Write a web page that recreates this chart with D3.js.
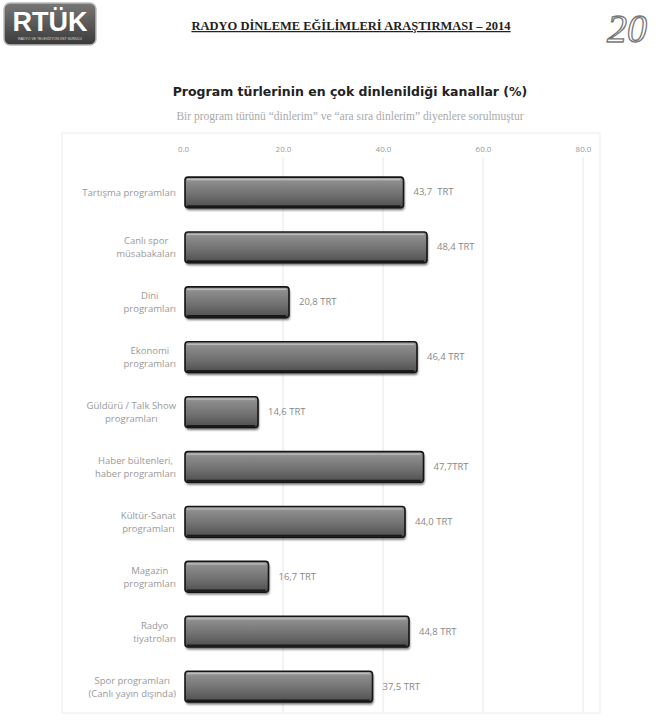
<!DOCTYPE html>
<html><head><meta charset="utf-8">
<script src="https://cdn.jsdelivr.net/npm/d3@7"></script>
<style>body{margin:0;background:#fff}</style>
</head><body>
<svg id="c" width="656" height="727"></svg>
<script>
const categories = [
  ["Tartışma programları"],
  ["Canlı spor", "müsabakaları"],
  ["Dini", "programları"],
  ["Ekonomi", "programları"],
  ["Güldürü / Talk Show", "programları"],
  ["Haber bültenleri,", "haber programları"],
  ["Kültür-Sanat", "programları"],
  ["Magazin", "programları"],
  ["Radyo", "tiyatroları"],
  ["Spor programları", "(Canlı yayın dışında)"]
];
const values = [43.7, 48.4, 20.8, 46.4, 14.6, 47.7, 44.0, 16.7, 44.8, 37.5];
const valueLabels = ["43,7  TRT", "48,4 TRT", "20,8 TRT", "46,4 TRT", "14,6 TRT", "47,7TRT", "44,0 TRT", "16,7 TRT", "44,8 TRT", "37,5 TRT"];
const tickValues = [0, 20, 40, 60, 80];
const tickLabels = ["0.0", "20.0", "40.0", "60.0", "80.0"];

const svg = d3.select("#c");
const defs = svg.append("defs");
const g1 = defs.append("linearGradient").attr("id","bar").attr("x1",0).attr("y1",0).attr("x2",0).attr("y2",1);
[["0%","#a4a4a4"],["15%","#8c8c8c"],["55%","#727272"],["100%","#4e4e4e"]].forEach(s=>g1.append("stop").attr("offset",s[0]).attr("stop-color",s[1]));
const g2 = defs.append("linearGradient").attr("id","logo").attr("x1",0).attr("y1",0).attr("x2",0).attr("y2",1);
[["0%","#777"],["100%","#3a3a3a"]].forEach(s=>g2.append("stop").attr("offset",s[0]).attr("stop-color",s[1]));
defs.append("filter").attr("id","blur").append("feGaussianBlur").attr("stdDeviation",1.2);

// Header
svg.append("rect").attr("x",4).attr("y",3).attr("width",92).attr("height",42).attr("rx",6)
  .attr("fill","url(#logo)").attr("stroke","#bbb").attr("stroke-width",1.5);
svg.append("text").attr("x",50).attr("y",31).attr("text-anchor","middle")
  .attr("font-family","Liberation Sans, Arial, sans-serif").attr("font-weight","bold").attr("font-size",27)
  .attr("fill","#fff").text("RTÜK");
svg.append("text").attr("x",50).attr("y",40).attr("text-anchor","middle")
  .attr("font-family","Liberation Sans, Arial, sans-serif").attr("font-size",3.5)
  .attr("fill","#ddd").text("RADYO VE TELEVİZYON ÜST KURULU");
svg.append("text").attr("x",351).attr("y",30).attr("text-anchor","middle")
  .attr("font-family","Liberation Serif, Times New Roman, serif").attr("font-weight","bold").attr("font-size",12.5)
  .attr("fill","#222").attr("text-decoration","underline").text("RADYO DİNLEME EĞİLİMLERİ ARAŞTIRMASI – 2014");
svg.append("text").attr("x",627).attr("y",42).attr("text-anchor","middle")
  .attr("font-family","Liberation Serif, serif").attr("font-style","italic").attr("font-size",40)
  .attr("fill","none").attr("stroke","#777").attr("stroke-width",1.3).text("20");

// Chart titles
svg.append("text").attr("x",350).attr("y",96).attr("text-anchor","middle")
  .attr("font-family","DejaVu Sans, sans-serif").attr("font-weight","bold").attr("font-size",12.5)
  .attr("fill","#222").text("Program türlerinin en çok dinlenildiği kanallar (%)");
svg.append("text").attr("x",350).attr("y",120).attr("text-anchor","middle")
  .attr("font-family","Liberation Serif, serif").attr("font-size",11.5)
  .attr("fill","#aaa").text("Bir program türünü \u201cdinlerim\u201d ve \u201cara sıra dinlerim\u201d diyenlere sorulmuştur");

// Plot frame
svg.append("rect").attr("x",62).attr("y",133).attr("width",538).attr("height",580)
  .attr("fill","none").attr("stroke","#ececec").attr("stroke-width",1);

const x = d3.scaleLinear().domain([0,80]).range([183,583]);
const y = d3.scaleBand().domain(d3.range(categories.length)).range([165,714]).paddingInner(0.44).paddingOuter(0.22);

// gridlines
svg.append("g").selectAll("line").data(tickValues.slice(1)).join("line")
  .attr("x1",d=>x(d)).attr("x2",d=>x(d)).attr("y1",157).attr("y2",712)
  .attr("stroke","#e6e6e6").attr("stroke-width",1);

// axis
const ax = svg.append("g").attr("transform","translate(0,152)")
  .call(d3.axisTop(x).tickValues(tickValues).tickFormat((d,i)=>tickLabels[i]).tickSize(0).tickPadding(0));
ax.select(".domain").remove();
ax.selectAll("text").attr("font-family","Open Sans, DejaVu Sans, sans-serif").attr("font-size",8).attr("fill","#999");

// bars
const bars = svg.append("g");
const bh = y.bandwidth();
values.forEach((v,i)=>{
  const y0 = y(i);
  bars.append("rect").attr("x",x(0)+3).attr("y",y0+2.5).attr("width",x(v)-x(0)).attr("height",bh)
    .attr("rx",3).attr("fill","#000").attr("opacity",0.55).attr("filter","url(#blur)");
  bars.append("rect").attr("x",x(0)+2).attr("y",y0).attr("width",x(v)-x(0)).attr("height",bh)
    .attr("rx",3).attr("fill","url(#bar)").attr("stroke","#151515").attr("stroke-width",1.6);
  bars.append("line").attr("x1",x(0)+4).attr("x2",x(v)-1).attr("y1",y0+bh-1.5).attr("y2",y0+bh-1.5)
    .attr("stroke","#1a1a1a").attr("stroke-width",2);
  bars.append("line").attr("x1",x(0)+4).attr("x2",x(v)-1).attr("y1",y0+2.5).attr("y2",y0+2.5)
    .attr("stroke","#c4c4c4").attr("stroke-width",1.2).attr("opacity",0.8);
  bars.append("text").attr("x",x(v)+12).attr("y",y0+bh/2+3)
    .attr("font-family","Open Sans, DejaVu Sans, sans-serif").attr("font-size",9.5).attr("fill","#888")
    .attr("xml:space","preserve").style("white-space","pre").text(valueLabels[i]);
});

// category labels
const lab = svg.append("g").attr("font-family","Open Sans, DejaVu Sans, sans-serif").attr("font-size",9.5).attr("fill","#999");
categories.forEach((lines,i)=>{
  const cy = y(i)+bh/2;
  const t = lab.append("text").attr("text-anchor","middle");
  const ts = lines.map((l,k)=>t.append("tspan").attr("y",cy+3.5 + (k-(lines.length-1)/2)*13).text(l));
  let maxW = 0;
  ts.forEach(s=>{maxW=Math.max(maxW,s.node().getComputedTextLength());});
  ts.forEach(s=>s.attr("x",176-maxW/2));
});
</script>
</body></html>
